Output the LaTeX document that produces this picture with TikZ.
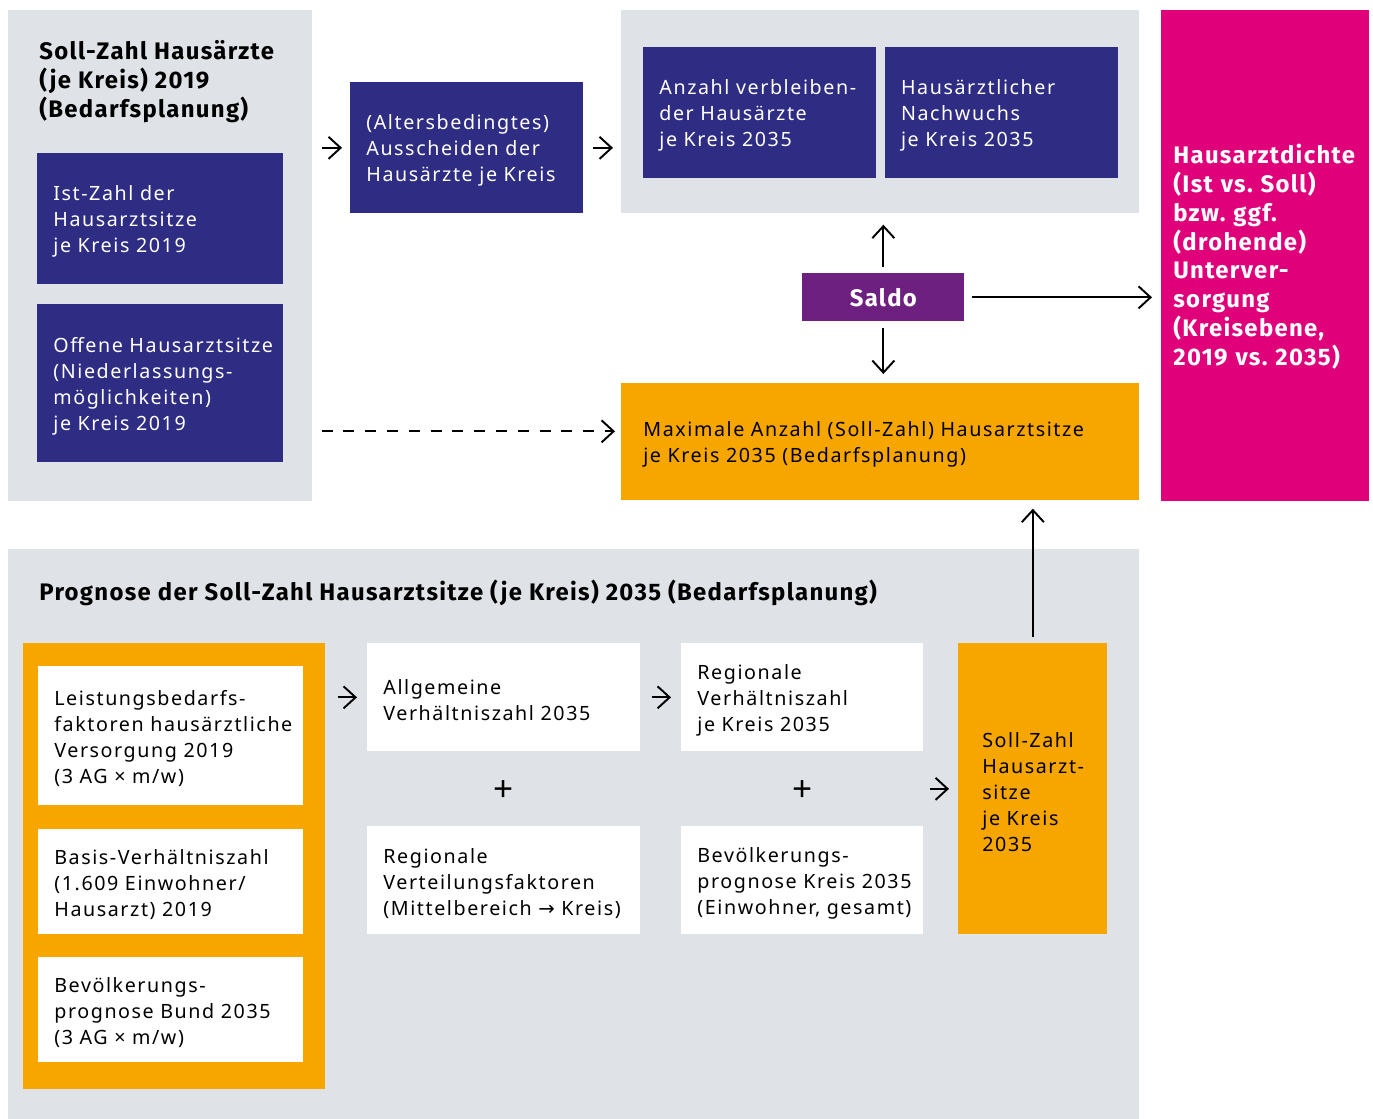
\documentclass[tikz,border=0pt]{standalone}
\usepackage{fontspec}
\setmainfont{Noto Sans}[LetterSpace=8]
\newfontfamily\headfont{Fira Sans}[LetterSpace=5.5]
\newfontfamily\arrowfont{DejaVu Sans}
\usetikzlibrary{positioning, calc, arrows.meta}
\definecolor{panelgray}{HTML}{DFE2E7}
\definecolor{boschblue}{HTML}{2E2C83}
\definecolor{saldopurple}{HTML}{6E2080}
\definecolor{densitymagenta}{HTML}{E0007A}
\definecolor{forecastorange}{HTML}{F7A600}
\tikzset{
    panel/.style={fill=panelgray, anchor=north west, inner sep=0pt},
    heading/.style={anchor=north west, inner sep=0pt, align=left, font=\headfont\fontsize{13.6}{16.4}\selectfont\bfseries},
    box/.style={anchor=north west, inner sep=0pt, text height=0.42cm, font=\fontsize{11.2}{14.8}\selectfont,
        execute at begin node={\leftskip=#1\relax}},
    box/.default=0.32cm,
    bluebox/.style={box=#1, fill=boschblue, text=white},
    bluebox/.default=0.32cm,
    whitebox/.style={box=#1, fill=white},
    whitebox/.default=0.32cm,
    orangebox/.style={box=#1, fill=forecastorange},
    orangebox/.default=0.32cm,
    arr/.style={line width=1.1pt, -{Straight Barb[length=2.4mm, width=4.4mm]}},
    dashline/.style={dash pattern=on 6.2pt off 6.2pt},
    plus/.style={font=\fontsize{20}{20}\selectfont, yshift=-0.05cm}
}

\begin{document}
\frenchspacing
\begin{tikzpicture}
  \useasboundingbox (0,0) rectangle (27.46,-22.38);
  % upper part
  \node(grayL)[panel, minimum width=6.08cm, minimum height=9.82cm] at (0.16,-0.2){};
  \node(titleL)[heading] at (0.78,-0.81){Soll-Zahl Hausärzte\\(je Kreis) 2019\\(Bedarfsplanung)};
  \node(istzahl)[bluebox, text width=4.92cm, minimum height=2.62cm] at (0.74,-3.06){Ist-Zahl der\\Hausarztsitze\\je Kreis 2019};
  \node(offene)[bluebox, text width=4.92cm, minimum height=3.16cm, below=0.38cm of istzahl]{Offene Hausarztsitze\\(Niederlassungs-\\möglichkeiten)\\je Kreis 2019};
  \node(ausscheiden)[bluebox, text width=4.66cm, minimum height=2.62cm] at (7.0,-1.64){(Altersbedingtes)\\Ausscheiden der\\Hausärzte je Kreis};
  \node(grayT)[panel, minimum width=10.36cm, minimum height=4.06cm] at (12.42,-0.2){};
  \node(verbleibend)[bluebox, text width=4.66cm, minimum height=2.62cm] at (12.86,-0.94){Anzahl verbleiben-\\der Hausärzte\\je Kreis 2035};
  \node(nachwuchs)[bluebox, text width=4.66cm, minimum height=2.62cm, right=0.16cm of verbleibend]{Hausärztlicher\\Nachwuchs\\je Kreis 2035};
  \node(saldo)[fill=saldopurple, text=white, anchor=north west, minimum width=3.24cm, minimum height=0.96cm, font=\headfont\fontsize{13.6}{16.4}\selectfont\bfseries] at (16.04,-5.46){Saldo};
  \node(maxzahl)[orangebox=0.44cm, text width=10.36cm, minimum height=2.34cm] at (12.42,-7.66){Maximale Anzahl (Soll-Zahl) Hausarztsitze\\je Kreis 2035 (Bedarfsplanung)};
  \node(dichte)[box=0.24cm, fill=densitymagenta, text=white, font=\headfont\fontsize{13.6}{16.4}\selectfont\bfseries, text width=4.16cm, minimum height=9.82cm] at (23.22,-0.2){Hausarztdichte\\(Ist vs. Soll)\\bzw. ggf.\\(drohende)\\Unterver-\\sorgung\\(Kreisebene,\\2019 vs. 2035)};
  \coordinate(maxin) at ([yshift=0.21cm]maxzahl.west);
  \draw[arr, shorten <=0.18cm, shorten >=0.16cm](grayL.east |- ausscheiden.west)--(ausscheiden.west);
  \draw[arr, shorten <=0.18cm, shorten >=0.16cm](ausscheiden.east)--(grayT.west |- ausscheiden.east);
  \draw[arr, shorten <=0.12cm, shorten >=0.22cm](saldo.north)--(grayT.south -| saldo.north);
  \draw[arr, shorten <=0.12cm, shorten >=0.18cm](saldo.south)--(maxzahl.north -| saldo.south);
  \draw[arr, shorten <=0.14cm, shorten >=0.18cm](saldo.east)--(dichte.west |- saldo.east);
  \draw[arr, dashline, shorten <=0.18cm, shorten >=0.12cm](grayL.east |- maxin)--(maxin);
  % lower part
  \node(grayB)[panel, minimum width=22.62cm, minimum height=11.4cm] at (0.16,-10.98){};
  \node(titleB)[heading] at (0.78,-11.6){Prognose der Soll-Zahl Hausarztsitze (je Kreis) 2035 (Bedarfsplanung)};
  \node(frame)[panel, fill=forecastorange, minimum width=6.04cm, minimum height=8.92cm] at (0.46,-12.86){};
  \node(leistung)[whitebox, text width=5.3cm, minimum height=2.78cm] at (0.76,-13.32){Leistungsbedarfs-\\faktoren hausärztliche\\Versorgung 2019\\(3 AG × m/w)};
  \node(basis)[whitebox, text width=5.3cm, minimum height=2.1cm] at (0.76,-16.58){Basis-Verhältniszahl\\(1.609 Einwohner/\\Hausarzt) 2019};
  \node(bevbund)[whitebox, text width=5.3cm, minimum height=2.1cm] at (0.76,-19.14){Bevölkerungs-\\prognose Bund 2035\\(3 AG × m/w)};
  \node(allgemein)[whitebox, text width=5.46cm, minimum height=2.16cm] at (7.34,-12.86){Allgemeine\\Verhältniszahl 2035};
  \node(regional)[whitebox, text width=4.84cm, minimum height=2.16cm] at (13.62,-12.86){Regionale\\Verhältniszahl\\je Kreis 2035};
  \node(verteilung)[whitebox, text width=5.46cm, minimum height=2.16cm] at (7.34,-16.52){Regionale\\Verteilungsfaktoren\\(Mittelbereich {\arrowfont →} Kreis)};
  \node(bevkreis)[whitebox, text width=4.84cm, minimum height=2.16cm] at (13.62,-16.52){Bevölkerungs-\\prognose Kreis 2035\\(Einwohner, gesamt)};
  \node(sollzahl)[orangebox=0.48cm, text width=2.98cm, minimum height=5.82cm] at (19.16,-12.86){Soll-Zahl\\Hausarzt-\\sitze\\je Kreis\\2035};
  \node(plusL)[plus] at ($(allgemein.south)!.5!(verteilung.north)$){+};
  \node(plusR)[plus] at ($(regional.south)!.5!(bevkreis.north)$){+};
  \draw[arr, shorten <=0.24cm, shorten >=0.2cm](frame.east |- allgemein.west)--(allgemein.west);
  \draw[arr, shorten <=0.22cm, shorten >=0.2cm](allgemein)--(regional);
  \draw[arr, shorten <=0.12cm, shorten >=0.18cm](regional.east |- sollzahl.west)--(sollzahl.west);
  \draw[arr, shorten <=0.12cm, shorten >=0.16cm](sollzahl.north)--(maxzahl.south -| sollzahl.north);
\end{tikzpicture}
\end{document}
